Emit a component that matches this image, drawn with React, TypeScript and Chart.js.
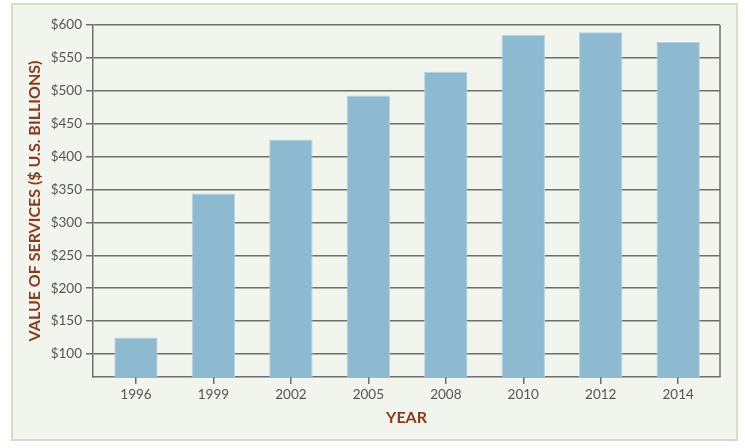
import React, { useEffect, useRef } from "react";
import { Chart, registerables } from "chart.js";

Chart.register(...registerables);

const years = ["1996", "1999", "2002", "2005", "2008", "2010", "2012", "2014"];
const values = [125, 344, 426, 493, 529, 585, 589, 574];
const yTickValues = [100, 150, 200, 250, 300, 350, 400, 450, 500, 550, 600];
const yTitle = "VALUE OF SERVICES ($ U.S. BILLIONS)";
const xTitle = "YEAR";

const plotBorder = {
  id: "plotBorder",
  afterDatasetsDraw(chart: any) {
    const { ctx, chartArea } = chart;
    ctx.save();
    ctx.strokeStyle = "#6f6f6f";
    ctx.lineWidth = 1.5;
    ctx.beginPath();
    ctx.moveTo(chartArea.right, chartArea.top);
    ctx.lineTo(chartArea.right, chartArea.bottom);
    ctx.stroke();
    ctx.restore();
  },
};

export default function App() {
  const ref = useRef<HTMLCanvasElement>(null);
  useEffect(() => {
    const chart = new Chart(ref.current!, {
      type: "bar",
      data: {
        datasets: [
          {
            data: values.map((v, i) => ({ x: i, y: v })),
            backgroundColor: "#8dbad0",
            borderColor: "#b3d4e4",
            borderWidth: 1,
            barPercentage: 0.56,
            categoryPercentage: 1,
          },
        ],
      },
      options: {
        responsive: false,
        animation: false,
        layout: { padding: { left: 0, top: 25, right: 25, bottom: 0 } },
        plugins: { legend: { display: false }, tooltip: { enabled: false } },
        scales: {
          x: {
            type: "linear",
            min: -0.555,
            max: 7.54,
            offset: false,
            afterFit: (s: any) => {
              s.height = 71;
            },
            afterBuildTicks: (s: any) => {
              s.ticks = years.map((_, i) => ({ value: i }));
            },
            grid: {
              offset: false,
              drawOnChartArea: false,
              drawTicks: true,
              tickLength: 7,
              color: "#6f6f6f",
              lineWidth: 1.5,
            },
            border: { color: "#6f6f6f", width: 1.5 },
            ticks: {
              color: "#555555",
              padding: 3,
              font: { family: "Lato", size: 13.5 },
              maxRotation: 0,
              autoSkip: false,
              callback: (v: any) => years[v],
            },
            title: {
              display: true,
              text: xTitle,
              color: "#8a3b1e",
              font: { family: "Lato", size: 16, weight: "bold" },
              padding: { top: 0, bottom: 21 },
            },
          },
          y: {
            min: 65,
            max: 600,
            afterFit: (s: any) => {
              s.width = 93;
            },
            afterBuildTicks: (s: any) => {
              s.ticks = yTickValues.map((v) => ({ value: v }));
            },
            grid: {
              color: "#6f6f6f",
              lineWidth: 1.5,
              tickLength: 7,
            },
            border: { color: "#6f6f6f", width: 1.5 },
            ticks: {
              color: "#555555",
              padding: 4,
              font: { family: "Lato", size: 13.5 },
              callback: (v: any) => "$" + v,
            },
            title: {
              display: true,
              text: yTitle,
              color: "#8a3b1e",
              font: { family: "Lato", size: 16, weight: "bold" },
              padding: { top: 25, bottom: 0 },
            },
          },
        },
      },
      plugins: [plotBorder],
    });
    return () => chart.destroy();
  }, []);

  return (
    <div style={{ position: "fixed", left: 0, top: 0, width: 745, height: 448, background: "#ffffff" }}>
      <div
        style={{
          position: "absolute",
          left: 11,
          top: 3,
          width: 727,
          height: 438,
          boxSizing: "border-box",
          background: "#f2f4ee",
          border: "2px solid #d7dcc3",
        }}
      />
      <canvas
        ref={ref}
        width={745}
        height={448}
        style={{ position: "absolute", left: 0, top: 0, width: 745, height: 448 }}
      />
    </div>
  );
}
